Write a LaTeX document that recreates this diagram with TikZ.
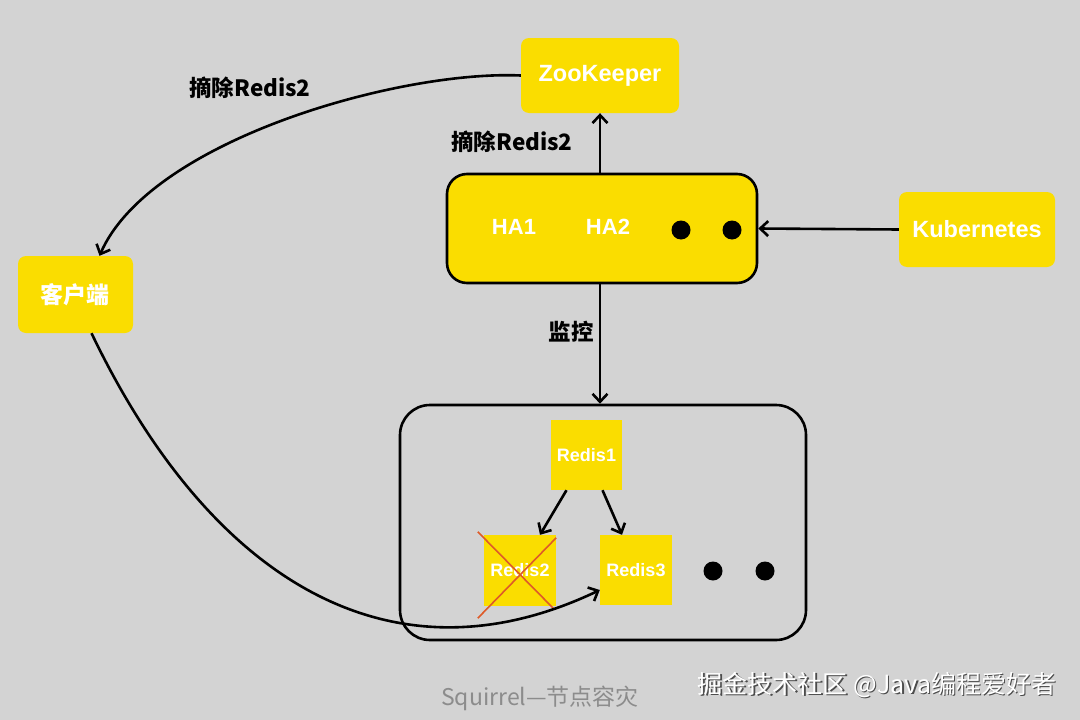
\documentclass[tikz,border=0pt]{standalone}
\usepackage{fontspec}
\setmainfont{Liberation Sans}
\newfontfamily\cjk{Noto Sans CJK SC}
\usetikzlibrary{arrows.meta}
\definecolor{bg}{RGB}{211,211,211}
\definecolor{yel}{RGB}{250,221,0}
\definecolor{xred}{RGB}{222,90,40}
\definecolor{capgray}{RGB}{140,140,140}
\tikzset{
  ybox/.style={fill=yel, rounded corners=8pt, text=white, font=\bfseries\fontsize{23.5}{27}\selectfont, inner sep=0pt},
  rbox/.style={fill=yel, text=white, font=\bfseries\fontsize{18}{21}\selectfont, inner sep=0pt},
  cbox/.style={fill=yel, rounded corners=8pt, text=white, font=\cjk\bfseries\fontsize{23}{27}\selectfont, inner sep=0pt},
  lbl/.style={text=black, font=\cjk\bfseries\fontsize{22.5}{26}\selectfont, inner sep=0pt},
  intext/.style={text=white, font=\bfseries\fontsize{22}{26}\selectfont, inner sep=0pt},
  arr/.style={line width=2.6pt, -{Straight Barb[length=8pt,width=15pt,line width=2.6pt]}},
  conn/.style={line width=2.6pt},
}
\begin{document}
\begin{tikzpicture}[x=1pt,y=-1pt]
\fill[bg] (0,0) rectangle (1080,720);
\useasboundingbox (0,0) rectangle (1080,720);

% boxes
\node[ybox, minimum width=158pt, minimum height=75pt] (zk) at (600,75.5) {ZooKeeper};
\node[cbox, minimum width=115pt, minimum height=77pt] (kh) at (75.5,294.5) {客户端};
\node[draw=black, conn, fill=yel, rounded corners=20pt, minimum width=310pt, minimum height=109pt, inner sep=0pt] (ha) at (602,228.5) {};
\node[ybox, minimum width=156pt, minimum height=75pt] (k8s) at (977,229.5) {Kubernetes};
\node[draw=black, conn, rounded corners=30pt, minimum width=406pt, minimum height=235pt, inner sep=0pt] (cl) at (603,522.5) {};

\node[intext] (ha1) at (514,227) {HA1};
\node[intext] (ha2) at (608,227) {HA2};
\fill (681,230) circle[radius=9.5pt];
\fill (732,230) circle[radius=9.5pt];

\node[rbox, minimum width=71pt, minimum height=70pt] (r1) at (586.5,455) {Redis1};
\node[rbox, minimum width=72pt, minimum height=71pt] (r2) at (520,570.5) {Redis2};
\node[rbox, minimum width=72pt, minimum height=70pt] (r3) at (636,570) {Redis3};
\fill (713,571) circle[radius=9.5pt];
\fill (765,571) circle[radius=9.5pt];

% red cross
\draw[xred, line width=1.6pt] ([shift={(-6,-3)}]r2.north west) -- ([shift={(-3,2)}]r2.south east);
\draw[xred, line width=1.6pt] ([shift={(0,3)}]r2.north east) -- ([shift={(-6,12)}]r2.south west);

% labels
\node[lbl] (l1) at (250,88) {摘除Redis2};
\node[lbl] (l2) at (512,142) {摘除Redis2};
\node[lbl] (l3) at (571,332) {监控};

% connectors
\draw[arr] (zk.south |- ha.north) -- (zk.south);
\draw[arr] (k8s.west) -- (ha.east);
\draw[arr] (zk.south |- ha.south) -- (zk.south |- cl.north);
\draw[arr] ([xshift=-20pt]r1.south) -- ([xshift=20pt]r2.north);
\draw[arr] ([xshift=16pt]r1.south) -- ([xshift=-14pt]r3.north);
\draw[arr] (zk.west) .. controls (400,70) and (150,140) .. ([xshift=24pt]kh.north);
\draw[arr] ([xshift=16pt]kh.south) .. controls (210,580) and (390,690) .. ([yshift=-20pt]r3.west);

% caption and watermark
\node[text=capgray, font=\cjk\fontsize{23}{27}\selectfont, inner sep=0pt] (cap) at (540,698) {Squirrel—节点容灾};
\node[text=black!70, font=\cjk\fontsize{25}{30}\selectfont, inner sep=0pt] (wms) at (878.5,686.5) {掘金技术社区 @Java编程爱好者};
\node[text=white, font=\cjk\fontsize{25}{30}\selectfont, inner sep=0pt] (wm) at (877,685) {掘金技术社区 @Java编程爱好者};
\end{tikzpicture}
\end{document}
